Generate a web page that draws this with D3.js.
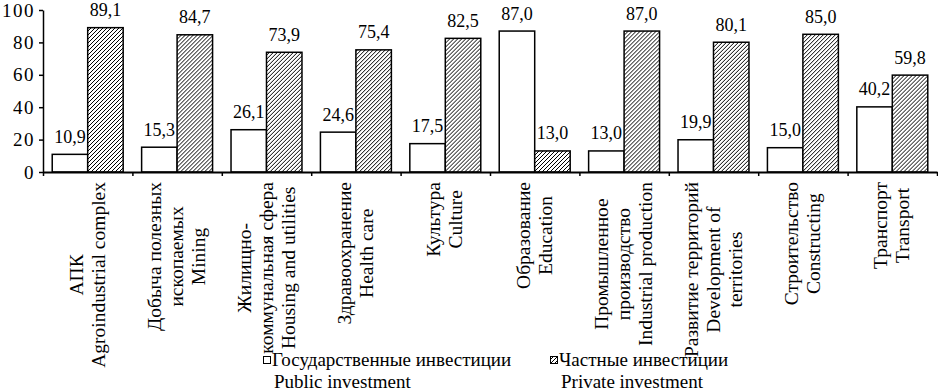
<!doctype html>
<meta charset="utf-8">
<script src="https://d3js.org/d3.v7.min.js"></script>
<style>body{margin:0;background:#fff}</style>
<body></body>
<script>

var categories = [
    ["АПК", "Agroindustrial complex"],
    ["Добыча полезных", "ископаемых", "Mining"],
    ["Жилищно-", "коммунальная сфера", "Housing and utilities"],
    ["Здравоохранение", "Health care"],
    ["Культура", "Culture"],
    ["Образование", "Education"],
    ["Промышленное", "производство", "Industrial production"],
    ["Развитие территорий", "Development of", "territories"],
    ["Строительство", "Constructing"],
    ["Транспорт", "Transport"]
];
var publicInv = [10.9, 15.3, 26.1, 24.6, 17.5, 87.0, 13.0, 19.9, 15.0, 40.2];
var privateInv = [89.1, 84.7, 73.9, 75.4, 82.5, 13.0, 87.0, 80.1, 85.0, 59.8];
var yTicks = [0, 20, 40, 60, 80, 100];
var legendRu = ["Государственные инвестиции", "Частные инвестиции"];
var legendEn = ["Public investment", "Private investment"];

var width = 938;
var height = 391;

var svg = d3.select("body")
        .append("svg")
        .attr("width", width)
        .attr("height", height)
        .style("font-family", "'Liberation Serif', 'Times New Roman', serif");

svg.append("rect").attr("width", width).attr("height", height).attr("fill", "#fff");

var pat = svg.append("defs").append("pattern")
        .attr("id", "hatch")
        .attr("patternUnits", "userSpaceOnUse")
        .attr("width", 4)
        .attr("height", 4);
pat.append("rect").attr("width", 4).attr("height", 4).attr("fill", "#fff");
pat.append("path")
        .attr("d", "M-1,1 L1,-1 M0,4 L4,0 M3,5 L5,3")
        .attr("stroke", "#000")
        .attr("stroke-width", 1);

var n = categories.length;
var x = d3.scaleBand().domain(d3.range(n)).range([43, 937]);
var xb = d3.scaleLinear().domain([0, n]).range([43, 937]);
var x1 = d3.scaleBand().domain([0, 1]).range([0, x.bandwidth()]).paddingOuter(0.26);
var y = d3.scaleLinear().domain([0, 100]).range([172, 10]);

var fmt = function(v) { return d3.format(".1f")(v).replace(".", ","); };
var fills = ["#fff", "url(#hatch)"];

var groups = svg.selectAll("g.cat")
        .data(d3.range(n))
        .enter().append("g")
        .attr("transform", function(i) { return "translate(" + x(i) + ",0)"; });

groups.each(function(i) {
    var g = d3.select(this);
    var vals = [publicInv[i], privateInv[i]];
    vals.forEach(function(v, k) {
        g.append("rect")
            .attr("x", x1(k))
            .attr("y", y(v))
            .attr("width", x1.bandwidth())
            .attr("height", y(0) - y(v))
            .attr("fill", fills[k])
            .attr("stroke", "#000")
            .attr("stroke-width", 1.5);
        g.append("text")
            .attr("x", x1(k) + x1.bandwidth() / 2)
            .attr("y", y(v) - 11.5)
            .attr("text-anchor", "middle")
            .style("font-size", "18px")
            .text(fmt(v));
    });
});

// y axis
var yAxis = svg.append("g")
        .attr("transform", "translate(43,0)")
        .call(d3.axisLeft(y).tickValues(yTicks).tickSize(4).tickSizeOuter(0).tickPadding(4));
yAxis.select(".domain").attr("stroke", "#000").attr("stroke-width", 1.5);
yAxis.selectAll("line").attr("stroke", "#000").attr("stroke-width", 1.5);
yAxis.selectAll("text")
        .attr("fill", "#000")
        .style("font-family", "'Liberation Serif', serif")
        .style("font-size", "19px")
        .style("letter-spacing", "1.5px");

// x axis
var xAxis = svg.append("g")
        .attr("transform", "translate(0," + y(0) + ")")
        .call(d3.axisBottom(xb).ticks(n).tickSize(4).tickSizeOuter(0).tickFormat(""));
xAxis.select(".domain").attr("stroke", "#000").attr("stroke-width", 2);
xAxis.selectAll("line").attr("stroke", "#000").attr("stroke-width", 1.5);

// category labels, rotated, centred lines
var lh = 22;
categories.forEach(function(lines, i) {
    var g = svg.append("g")
        .attr("transform", "translate(" + (x(i) + x.bandwidth() / 2) + ",182) rotate(-90)")
        .style("font-size", "19.5px");
    var texts = lines.map(function(t, j) {
        return g.append("text")
            .attr("y", (j - (lines.length - 1) / 2) * lh + 6)
            .attr("text-anchor", "middle")
            .text(t);
    });
    var maxLen = d3.max(texts, function(t) { return t.node().getComputedTextLength(); });
    texts.forEach(function(t) { t.attr("x", -maxLen / 2); });
});

// legend
var legX = [263, 550];
legendRu.forEach(function(t, k) {
    var lg = svg.append("g").attr("transform", "translate(" + legX[k] + ",0)");
    lg.append("rect")
        .attr("x", 0.5).attr("y", 356.5)
        .attr("width", 7).attr("height", 7)
        .attr("fill", fills[k])
        .attr("stroke", "#000")
        .attr("stroke-width", 1);
    lg.append("text").attr("x", 9).attr("y", 366).style("font-size", "19px").text(t);
    lg.append("text").attr("x", 11).attr("y", 388).style("font-size", "19px").text(legendEn[k]);
});

</script>
